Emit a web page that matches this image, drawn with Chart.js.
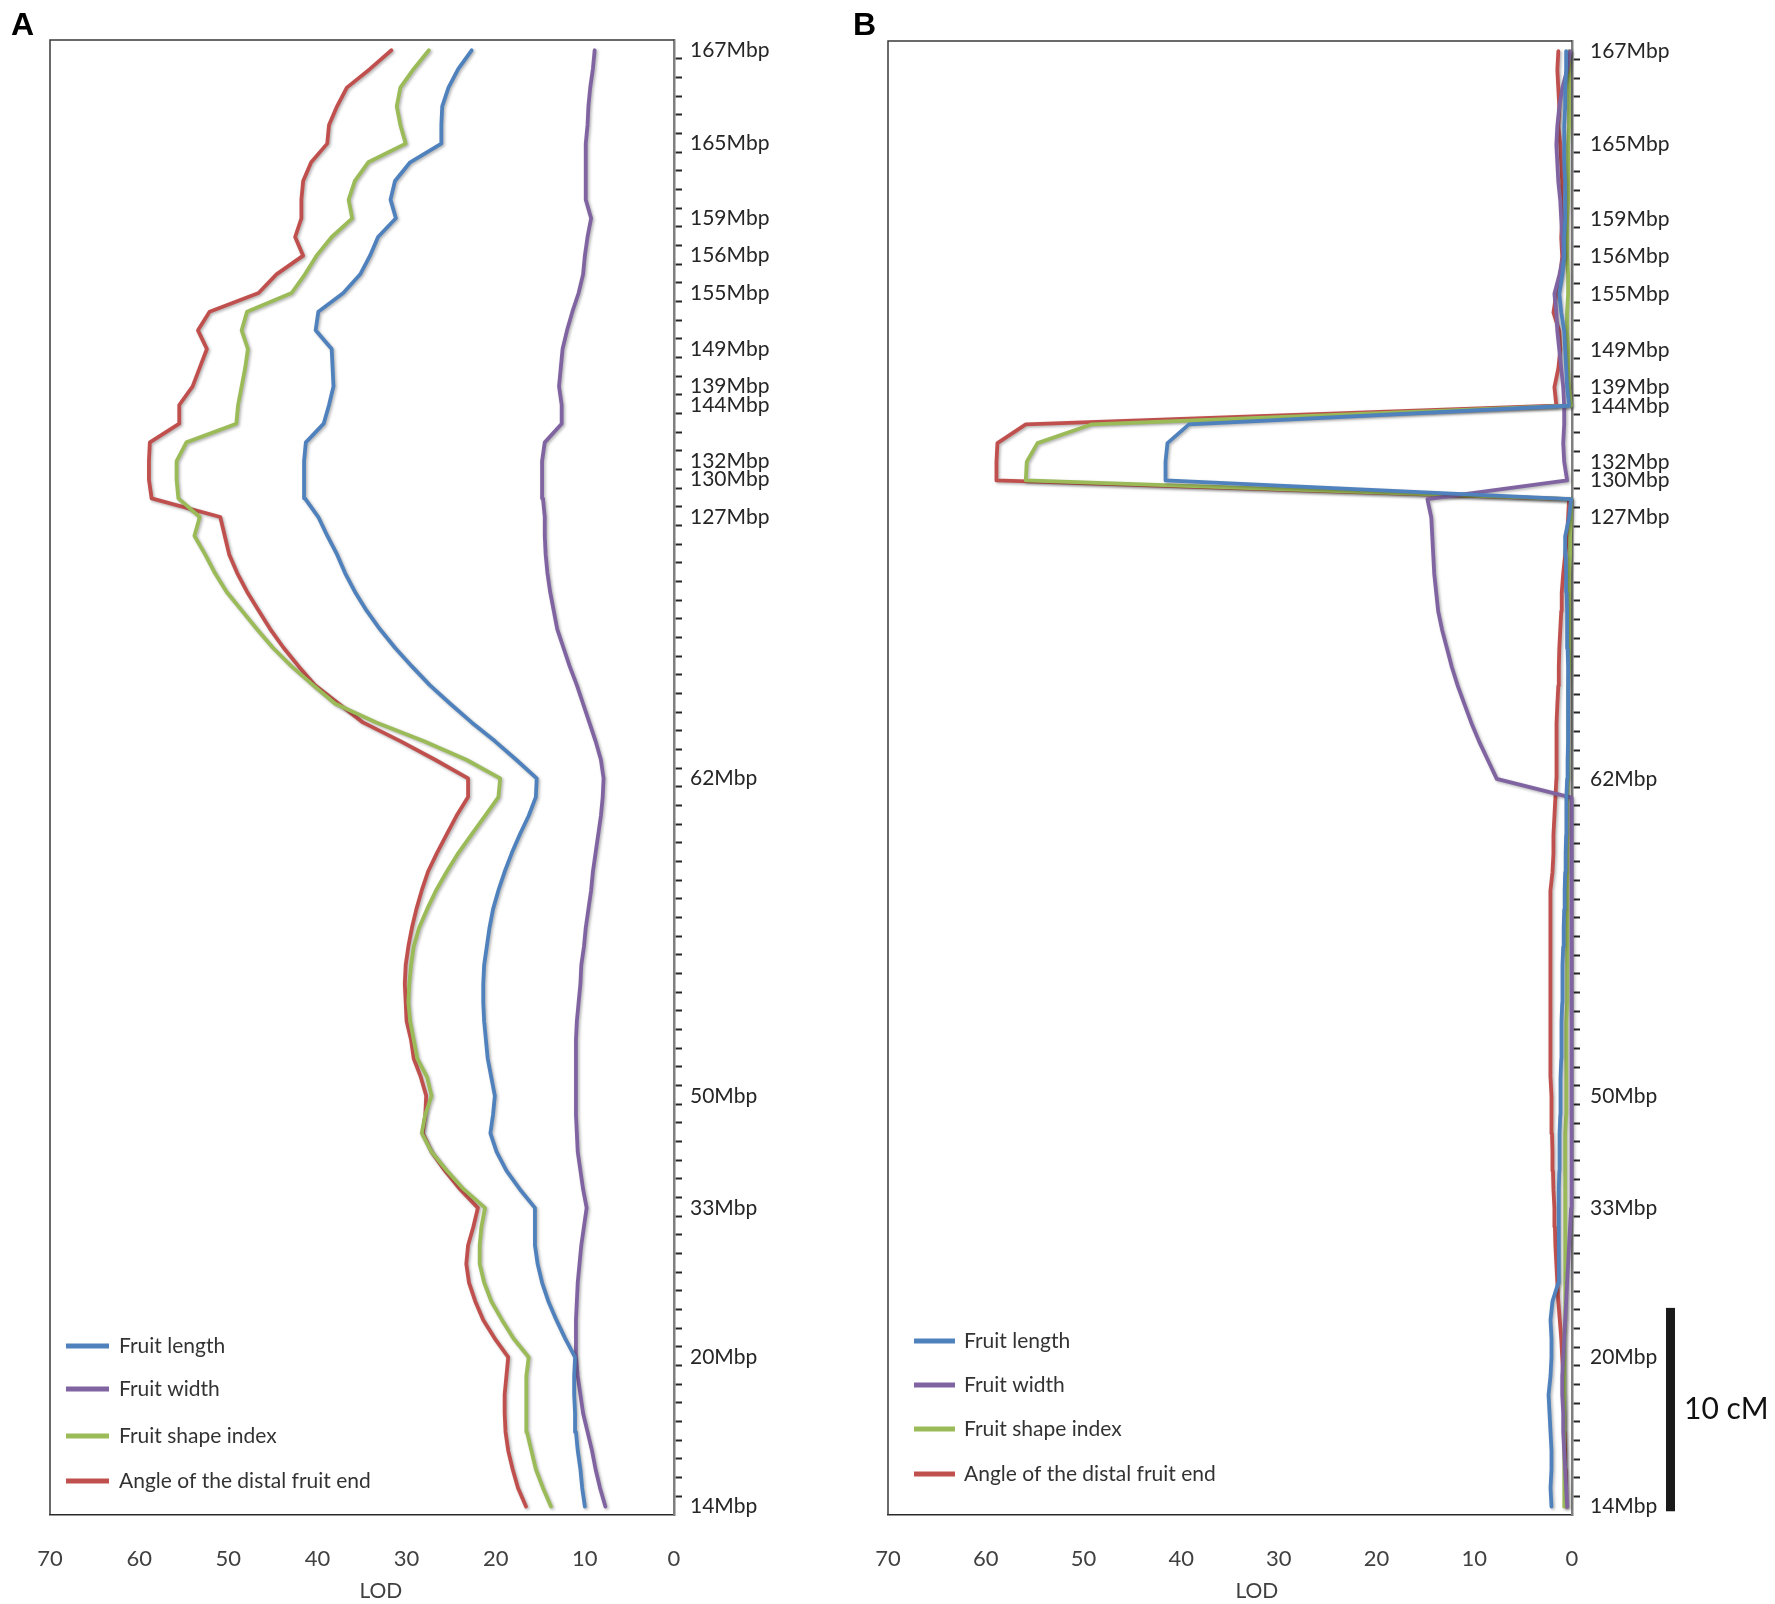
<!DOCTYPE html>
<html><head><meta charset="utf-8">
<script src="https://cdn.jsdelivr.net/npm/chart.js@4.4.0/dist/chart.umd.min.js"></script>
<style>
html,body{margin:0;padding:0;background:#fff;}
#wrap{position:relative;width:1775px;height:1604px;overflow:hidden;background:#fff;}
canvas{position:absolute;top:0;}
#cA{left:0;width:887px;height:1604px;}
#cB{left:850px;width:925px;height:1604px;}
</style></head><body>
<div id="wrap"><canvas id="cA" width="887" height="1604"></canvas><canvas id="cB" width="925" height="1604"></canvas></div>
<script>
// Map positions (axis units, bottom = 14Mbp end, top = 167Mbp end)
const positions = [0.45,1.45,2.45,3.45,4.45,5.45,6.45,7.45,8.45,9.45,
 10.45,11.45,12.45,13.45,14.45,15.45,16.45,17.45,18.45,19.45,
 20.45,21.45,22.45,23.45,24.45,25.45,26.45,27.45,28.45,29.45,
 30.45,31.45,32.45,33.45,34.45,35.45,36.45,37.45,38.45,39.45,
 40.45,41.45,42.45,43.45,44.45,45.45,46.45,47.45,48.45,49.45,
 50.45,51.45,52.45,53.45,54.45,55.45,56.45,57.45,58.45,59.45,
 60.45,61.45,62.45,63.45,64.45,65.45,66.45,67.45,68.45,69.45,
 70.45,71.45,72.45,73.45,74.45,75.45,76.45,77.45,78.45];
const markerIndex  = [0, 8, 16, 22, 39, 53, 55, 56, 59, 60, 62, 65, 67, 69, 73, 78];
const markerLabels = ['14Mbp','20Mbp','33Mbp','50Mbp','62Mbp','127Mbp','130Mbp','132Mbp','144Mbp','139Mbp','149Mbp','155Mbp','156Mbp','159Mbp','165Mbp','167Mbp'];
const seriesNames  = ['Fruit length','Fruit width','Fruit shape index','Angle of the distal fruit end'];
const seriesColors = ['#4F81BD','#8064A2','#9BBB59','#C0504D'];
const lodMin = 0, lodMax = 70, lodStep = 10;
const posMin = 0, posMax = 79;
const scaleBarFrom = 0.2, scaleBarTo = 11.1;
const scaleBarLabel = '10 cM';
const axisTitle = 'LOD';

// Panel A LOD profiles (index = map position above)
const A_length = [10.0,10.3,10.5,10.8,11.0,11.1,11.2,11.2,11.1,12.2,
 13.2,14.1,14.8,15.3,15.6,15.6,15.6,17.3,18.8,19.9,
 20.6,20.3,20.1,20.5,20.9,21.1,21.3,21.4,21.4,21.3,
 21.0,20.7,20.3,19.7,19.0,18.2,17.3,16.3,15.5,15.4,
 17.7,20.1,22.7,25.1,27.4,29.4,31.3,33.0,34.5,35.8,
 36.9,37.8,38.9,39.9,41.4,41.5,41.5,41.3,39.3,38.7,
 38.2,38.3,38.4,40.2,39.9,37.1,35.2,34.1,33.2,31.2,
 31.8,31.3,29.6,26.1,26.1,26.0,25.3,24.2,22.7];
const A_width = [7.7,8.3,8.8,9.2,9.7,10.2,10.5,10.8,11.0,11.0,
 11.0,10.9,10.8,10.6,10.4,10.1,9.8,10.2,10.5,10.8,
 10.9,11.0,11.0,11.0,11.0,11.0,10.9,10.7,10.5,10.4,
 10.1,9.9,9.6,9.3,9.1,8.8,8.5,8.2,8.0,7.9,
 8.2,8.8,9.5,10.2,10.9,11.7,12.4,13.1,13.5,13.9,
 14.2,14.4,14.5,14.5,14.7,14.8,14.8,14.5,12.6,12.6,
 12.9,12.7,12.5,12.0,11.4,10.7,10.2,10.0,9.7,9.3,
 9.9,9.9,9.9,9.9,9.7,9.6,9.4,9.1,8.9];
const A_shape = [13.8,14.7,15.5,16.0,16.5,16.6,16.6,16.5,16.3,18.0,
 19.3,20.5,21.3,21.8,21.8,21.6,21.2,23.6,25.5,27.2,
 28.3,27.9,27.2,27.7,28.8,29.2,29.6,29.8,29.7,29.5,
 29.2,28.6,27.7,26.7,25.5,24.2,22.7,21.2,19.7,19.5,
 23.3,28.1,33.4,38.0,40.5,42.9,45.0,46.8,48.5,50.2,
 51.5,52.6,53.8,53.2,55.6,55.8,55.8,54.7,49.1,48.9,
 48.5,48.1,47.8,48.5,47.9,42.9,41.4,40.1,38.4,36.1,
 36.5,35.8,34.3,30.1,30.7,31.1,30.7,29.2,27.5];
const A_angle = [16.6,17.5,18.1,18.6,18.9,19.0,19.0,18.8,18.6,20.1,
 21.4,22.3,23.0,23.3,23.1,22.5,22.0,24.0,25.7,27.2,
 28.2,27.9,27.8,28.4,29.2,29.5,30.0,30.1,30.2,30.1,
 29.8,29.4,28.9,28.3,27.6,26.6,25.5,24.4,23.1,23.1,
 26.8,30.7,34.9,37.6,40.3,42.1,43.8,45.3,46.6,47.9,
 49.0,49.9,50.4,50.9,58.6,58.9,58.9,58.8,55.5,55.5,
 54.0,53.2,52.4,53.4,52.1,46.6,44.6,41.6,42.5,41.8,
 41.8,41.6,40.7,38.9,38.7,37.8,36.7,34.1,31.7];

// Panel B LOD profiles
const B_length = [2.1,2.2,2.1,2.1,2.2,2.3,2.4,2.2,2.1,2.1,
 2.2,2.0,1.4,1.35,1.35,1.35,1.35,1.35,1.3,1.3,
 1.25,1.2,1.2,1.15,1.1,1.1,1.05,1.0,1.0,0.95,
 0.9,0.85,0.8,0.75,0.7,0.65,0.6,0.6,0.55,0.5,
 0.45,0.4,0.4,0.4,0.4,0.4,0.45,0.5,0.5,0.55,
 0.6,0.65,0.7,0.3,0.1,41.6,41.6,41.4,39.2,0.3,
 0.5,0.6,0.7,0.8,1.1,1.3,1.0,0.8,0.8,0.7,
 0.7,0.7,0.8,0.8,0.8,0.7,0.7,0.6,0.6];
const B_width = [0.5,0.6,0.7,0.8,0.9,0.9,1.0,1.0,0.9,0.8,
 0.7,0.6,0.5,0.4,0.3,0.2,0.1,0.05,0.05,0.05,
 0.05,0.05,0.05,0.05,0.05,0.05,0.05,0.05,0.05,0.05,
 0.05,0.05,0.05,0.05,0.05,0.05,0.05,0.05,0.05,7.7,
 8.6,9.5,10.3,11.0,11.7,12.3,12.8,13.3,13.7,13.9,
 14.1,14.2,14.3,14.4,14.8,0.5,0.8,0.9,0.8,0.8,
 0.9,1.1,1.3,1.5,1.6,1.8,1.3,0.9,1.0,1.1,
 1.2,1.4,1.5,1.6,1.5,1.3,1.0,0.5,0.2];
const B_shape = [0.8,0.8,0.8,0.8,0.8,0.8,0.8,0.8,0.75,0.75,
 0.7,0.7,0.7,0.7,0.7,0.7,0.7,0.7,0.7,0.65,
 0.65,0.6,0.6,0.6,0.6,0.55,0.55,0.5,0.5,0.5,
 0.5,0.5,0.5,0.5,0.5,0.5,0.5,0.45,0.45,0.4,
 0.4,0.4,0.4,0.35,0.35,0.3,0.3,0.3,0.3,0.3,
 0.25,0.2,0.2,0.1,0.1,55.9,55.8,54.7,49.2,0.1,
 0.3,0.4,0.4,0.5,0.5,0.4,0.4,0.5,0.5,0.5,
 0.4,0.4,0.4,0.4,0.3,0.3,0.3,0.3,0.3];
const B_angle = [0.55,0.6,0.65,0.7,0.75,0.8,0.85,0.9,1.0,1.1,
 1.25,1.4,1.5,1.6,1.7,1.75,1.8,1.9,1.95,2.0,
 2.05,2.1,2.1,2.2,2.25,2.25,2.2,2.2,2.2,2.2,
 2.2,2.2,2.2,2.2,2.0,1.9,1.9,1.8,1.7,1.6,
 1.6,1.6,1.55,1.5,1.4,1.35,1.3,1.2,1.1,1.05,
 0.9,0.7,0.5,0.4,0.3,58.9,58.9,58.8,55.9,1.6,
 1.8,1.4,1.2,1.3,1.9,1.6,1.2,1.0,1.1,1.0,
 1.1,1.0,1.1,1.2,1.4,1.3,1.4,1.5,1.4];

Chart.defaults.font.family = 'Lato, "Open Sans", sans-serif';
Chart.defaults.animation = false;

const shadowPlugin = {
  id: 'lineShadow',
  beforeDatasetsDraw(chart) {
    const c = chart.ctx; c.save();
    c.shadowColor = 'rgba(0,0,0,0.30)'; c.shadowBlur = 3; c.shadowOffsetX = 1.5; c.shadowOffsetY = 1.5;
  },
  afterDatasetsDraw(chart) { chart.ctx.restore(); }
};

const decorPlugin = {
  id: 'decor',
  afterDraw(chart, args, o) {
    const {ctx, chartArea: a} = chart;
    ctx.save();
    ctx.strokeStyle = '#3a3a3a'; ctx.lineWidth = 1.5;
    ctx.beginPath(); ctx.moveTo(a.left, a.bottom); ctx.lineTo(a.left, a.top); ctx.lineTo(a.right, a.top); ctx.stroke();
    ctx.fillStyle = '#000'; ctx.textAlign = 'left'; ctx.textBaseline = 'alphabetic';
    ctx.font = 'bold 32px "Liberation Sans", Arial, sans-serif';
    ctx.fillText(o.letter, o.letterX, o.letterY);
    ctx.font = '21px Lato'; ctx.textBaseline = 'middle';
    chart.data.datasets.forEach((ds, i) => {
      const y = a.bottom - o.legendRows[i];
      const x = a.left + o.legendX;
      ctx.fillStyle = ds.borderColor; ctx.fillRect(x, y - 2.5, o.legendLine, 5);
      ctx.fillStyle = '#333'; ctx.fillText(ds.label, x + o.legendLine + o.legendGap, y);
    });
    if (o.scaleBar) {
      const ys = chart.scales.y;
      const y1 = ys.getPixelForValue(scaleBarFrom), y2 = ys.getPixelForValue(scaleBarTo);
      ctx.fillStyle = '#1a1a1a'; ctx.fillRect(o.scaleBar.x, y2, o.scaleBar.w, y1 - y2);
      ctx.fillStyle = '#111'; ctx.font = '30px Lato'; ctx.textBaseline = 'middle';
      ctx.fillText(scaleBarLabel, o.scaleBar.x + o.scaleBar.w + 9, (y1 + y2) / 2);
    }
    ctx.restore();
  }
};

function makeChart(id, series, cfg) {
  const datasets = series.map((vals, i) => ({
    label: seriesNames[i],
    data: vals.map((v, j) => ({x: v, y: positions[j]})),
    borderColor: seriesColors[i], backgroundColor: seriesColors[i],
    borderWidth: 3.8, pointRadius: 0, showLine: true, tension: 0, fill: false,
    borderJoinStyle: 'round', borderCapStyle: 'round', clip: false,
    xAxisID: 'x', yAxisID: 'y'
  }));
  return new Chart(document.getElementById(id), {
    type: 'scatter',
    data: { datasets },
    plugins: [shadowPlugin, decorPlugin],
    options: {
      responsive: false, maintainAspectRatio: false, animation: false,
      layout: { padding: { left: cfg.left, top: cfg.top, right: 0, bottom: 0 } },
      plugins: { legend: { display: false }, tooltip: { enabled: false }, decor: cfg.decor },
      scales: {
        x: {
          type: 'linear', position: 'bottom', min: lodMin, max: lodMax, reverse: true,
          grid: { display: false, drawTicks: false, tickLength: 0 },
          border: { display: true, color: '#2a2a2a', width: 1.5 },
          ticks: { stepSize: lodStep, padding: cfg.xPad, color: '#404040', font: { size: 22 } },
          title: { display: true, text: ' '.repeat(cfg.titleShift) + axisTitle, color: '#404040', font: { size: 21 }, padding: { top: 0, bottom: 0 } },
          afterFit: s => { s.height = cfg.xHeight; s.paddingLeft = 0; s.paddingRight = 0; }
        },
        y: {
          type: 'linear', position: 'right', min: posMin, max: posMax, weight: 0,
          grid: { display: true, drawOnChartArea: false, drawTicks: true, tickLength: 8, tickColor: '#262626', tickWidth: 2 },
          border: { display: true, color: '#7f7f7f', width: 2.5 },
          ticks: { display: false, stepSize: 1 },
          afterBuildTicks: s => { s.ticks = s.ticks.filter(t => t.value >= 1 && t.value <= posMax - 1); },
          afterFit: s => { s.width = 8; }
        },
        yl: {
          type: 'linear', position: 'right', min: posMin, max: posMax, weight: 1,
          grid: { display: false, drawTicks: false },
          border: { display: false },
          ticks: { autoSkip: false, padding: cfg.yPad, color: '#262626', font: { size: 21 },
                   callback: (v, i) => markerLabels[i] },
          afterBuildTicks: s => { s.ticks = markerIndex.map(k => ({ value: positions[k] })); },
          afterFit: s => { s.width = cfg.ylWidth; }
        }
      }
    }
  });
}

makeChart('cA', [A_length, A_width, A_shape, A_angle], {
  left: 50, top: 40, xPad: 31, xHeight: 89, yPad: 8, ylWidth: 205, titleShift: 7,
  decor: { letter: 'A', letterX: 11, letterY: 35, legendX: 16, legendLine: 43, legendGap: 10,
           legendRows: [169, 126, 79, 34] }
});
makeChart('cB', [B_length, B_width, B_shape, B_angle], {
  left: 38, top: 41, xPad: 31, xHeight: 89, yPad: 10, ylWidth: 195, titleShift: 10,
  decor: { letter: 'B', letterX: 3, letterY: 35, legendX: 26, legendLine: 41, legendGap: 9,
           legendRows: [174, 130, 86, 41], scaleBar: { x: 816, w: 9 } }
});
</script>
</body></html>
